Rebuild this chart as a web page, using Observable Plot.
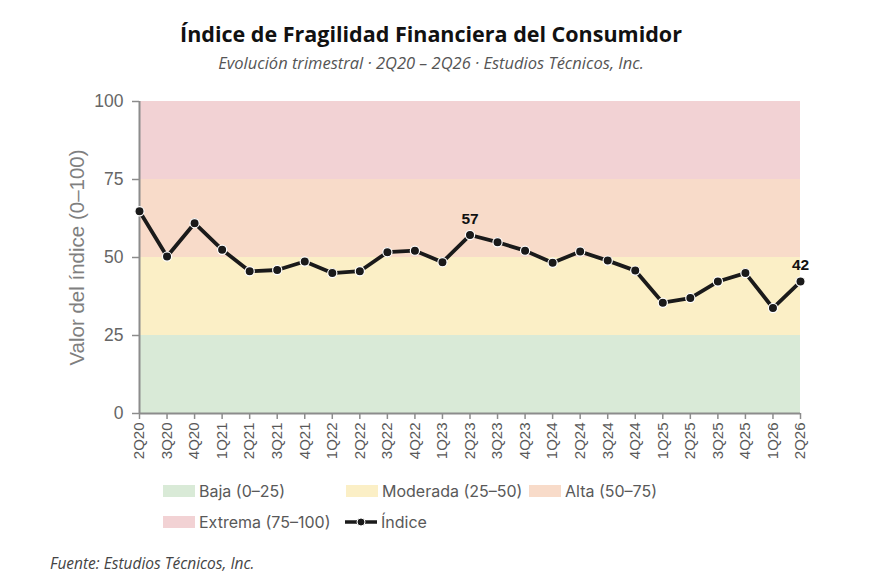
<!DOCTYPE html>
<html>
<head>
<meta charset="utf-8">
<script src="https://cdn.jsdelivr.net/npm/d3@7"></script>
<script src="https://cdn.jsdelivr.net/npm/@observablehq/plot@0.6"></script>
<style>
  body { margin: 0; background: #fff; width: 871px; height: 577px; position: relative; overflow: hidden; }
  #title { position: absolute; left: 0; width: 862px; top: 19px; text-align: center; font-family: "Open Sans", sans-serif; font-weight: 700; font-size: 21.5px; color: #111; }
  #subtitle { position: absolute; left: 0; width: 862px; top: 51px; text-align: center; font-family: "Open Sans", sans-serif; font-style: italic; font-size: 16.5px; color: #555; }
  #chart { position: absolute; left: 0; top: 80px; }
  #chart svg { overflow: visible; }
  .leg { position: absolute; font-family: Inter, "Liberation Sans", sans-serif; font-size: 16px; color: #595959; display: flex; align-items: center; white-space: nowrap; }
  .sw { width: 32px; height: 12px; margin-right: 4px; }
  #source { position: absolute; left: 50px; top: 552px; font-family: "Open Sans", sans-serif; font-style: italic; font-size: 15.5px; color: #444; }
</style>
</head>
<body>
<div id="title">Índice de Fragilidad Financiera del Consumidor</div>
<div id="subtitle">Evolución trimestral · 2Q20 – 2Q26 · Estudios Técnicos, Inc.</div>
<div id="chart"></div>
<div id="legend"></div>
<div id="source">Fuente: Estudios Técnicos, Inc.</div>
<script>
const quarters = ["2Q20","3Q20","4Q20","1Q21","2Q21","3Q21","4Q21","1Q22","2Q22","3Q22","4Q22","1Q23","2Q23","3Q23","4Q23","1Q24","2Q24","3Q24","4Q24","1Q25","2Q25","3Q25","4Q25","1Q26","2Q26"];
const values = [64.8,50.3,61.0,52.5,45.6,46.0,48.7,45.0,45.6,51.7,52.2,48.5,57.2,54.9,52.2,48.3,51.9,49.0,45.8,35.5,37.0,42.3,45.0,33.8,42.3];
const bandNames = ["Baja (0–25)","Moderada (25–50)","Alta (50–75)","Extrema (75–100)"];
const bandLo = [0,25,50,75];
const bandHi = [25,50,75,100];
const bandColors = ["#d9ead7","#fbefc6","#f8dbc9","#f2d2d4"];
const yTicks = [0,25,50,75,100];
const labeled = ["2Q23","2Q26"];

const bands = bandNames.map((n,i) => ({name:n, lo:bandLo[i], hi:bandHi[i], color:bandColors[i]}));
const data = quarters.map((q,i) => ({i, q, v: values[i]}));

const chart = Plot.plot({
  width: 871,
  height: 393,
  marginLeft: 139,
  marginRight: 71,
  marginTop: 21,
  marginBottom: 60,
  style: {fontFamily: "'Liberation Sans', Arial, sans-serif", background: "transparent", overflow: "visible"},
  x: {type: "linear", domain: [0, quarters.length - 1], axis: null},
  y: {domain: [0, 100], axis: null},
  marks: [
    Plot.rect(bands, {y1: "lo", y2: "hi", fill: "color", inset: 0}),
    Plot.ruleX([0], {stroke: "#8c8c8c", strokeWidth: 2}),
    Plot.ruleY([0], {stroke: "#8c8c8c", strokeWidth: 2}),
    Plot.axisY(yTicks, {ticks: yTicks, tickSize: 7, tickPadding: 9, stroke: "#8c8c8c", strokeWidth: 1.5, fontSize: 17.5, fill: "#666", label: null, anchor: "left"}),
    Plot.text(["Valor del índice (0–100)"], {frameAnchor: "left", dx: -62, rotate: -90, fontSize: 20.5, fill: "#7f7f7f", textAnchor: "middle"}),
    Plot.axisX(d3.range(quarters.length), {ticks: d3.range(quarters.length), tickFormat: i => quarters[i], tickSize: 6, tickPadding: 3, stroke: "#8c8c8c", strokeWidth: 1.5, tickRotate: -90, fontSize: 15, fill: "#595959", label: null, anchor: "bottom"}),
    Plot.line(data, {x: "i", y: "v", stroke: "#1a1a1a", strokeWidth: 3.8, strokeLinejoin: "round"}),
    Plot.dot(data, {x: "i", y: "v", r: 4.6, fill: "#1a1a1a", stroke: "#fff", strokeWidth: 1.2}),
    Plot.text(data.filter(d => labeled.includes(d.q)), {x: "i", y: "v", text: d => String(Math.round(d.v)), dy: -16, fontSize: 15.5, fontWeight: "bold", fill: "#111"})
  ]
});
document.getElementById("chart").appendChild(chart);

// legend
const legendPos = [[163, 491],[346, 491],[529, 491],[163, 522]];
const leg = document.getElementById("legend");
bands.forEach((b, k) => {
  const el = document.createElement("div");
  el.className = "leg";
  el.style.left = legendPos[k][0] + "px";
  el.style.top = (legendPos[k][1] - 10) + "px";
  el.innerHTML = `<div class="sw" style="background:${b.color}"></div><span>${b.name}</span>`;
  leg.appendChild(el);
});
const li = document.createElement("div");
li.className = "leg";
li.style.left = "345px";
li.style.top = (522 - 10) + "px";
li.innerHTML = `<svg width="32" height="12" style="margin-right:4px"><line x1="0" y1="6" x2="32" y2="6" stroke="#1a1a1a" stroke-width="3.5"/><circle cx="16" cy="6" r="4" fill="#1a1a1a" stroke="#fff" stroke-width="1"/></svg><span>Índice</span>`;
leg.appendChild(li);
</script>
</body>
</html>
